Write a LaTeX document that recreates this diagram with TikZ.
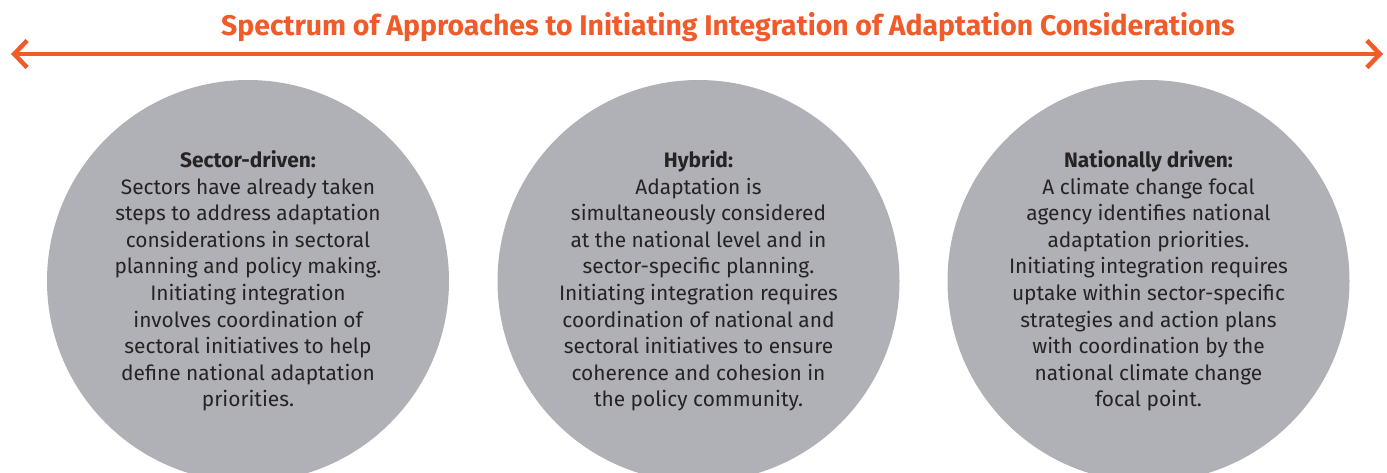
\documentclass[tikz,border=0pt]{standalone}
\usepackage{fontspec}
\setmainfont{Fira Sans}
\usetikzlibrary{arrows.meta}
\definecolor{orangeR}{HTML}{F15A29}
\definecolor{circ}{HTML}{AFB1B6}
\definecolor{txt}{HTML}{262324}
\tikzset{
  bubble/.style={circle, fill=circ, minimum size=402pt, inner sep=0pt, align=center,
    text=txt, font=\fontsize{20.9}{26.6}\selectfont},
  spectrum/.style={draw=orangeR, line width=4.5pt, {Straight Barb[length=13pt,width=27pt]}-{Straight Barb[length=13pt,width=27pt]}},
  titletext/.style={text=orangeR, font=\fontsize{28.4}{32}\bfseries\selectfont, inner sep=0pt}
}
\begin{document}
\begin{tikzpicture}[x=1pt,y=-1pt]
\useasboundingbox (0,0) rectangle (1387,472);
\clip (0,0) rectangle (1387,472);
\node[titletext, anchor=base] (title) at (728,35) {Spectrum of Approaches to Initiating Integration of Adaptation Considerations};
\coordinate (L) at (11,54);
\coordinate (R) at (1383,54);
\draw[spectrum] (L) -- (R);
\node[bubble] (sector) at (248,281) {\textbf{Sector-driven:}\\Sectors have already taken\\steps to address adaptation\\considerations in sectoral\\planning and policy making.\\Initiating integration\\involves coordination of\\sectoral initiatives to help\\define national adaptation\\priorities.};
\node[bubble] (hybrid) at (698.5,281) {\textbf{Hybrid:}\\Adaptation is\\simultaneously considered\\at the national level and in\\sector-specific planning.\\Initiating integration requires\\coordination of national and\\sectoral initiatives to ensure\\coherence and cohesion in\\the policy community.};
\node[bubble] (national) at (1148.5,281) {\textbf{Nationally driven:}\\A climate change focal\\agency identifies national\\adaptation priorities.\\Initiating integration requires\\uptake within sector-specific\\strategies and action plans\\with coordination by the\\national climate change\\focal point.};
\end{tikzpicture}
\end{document}
